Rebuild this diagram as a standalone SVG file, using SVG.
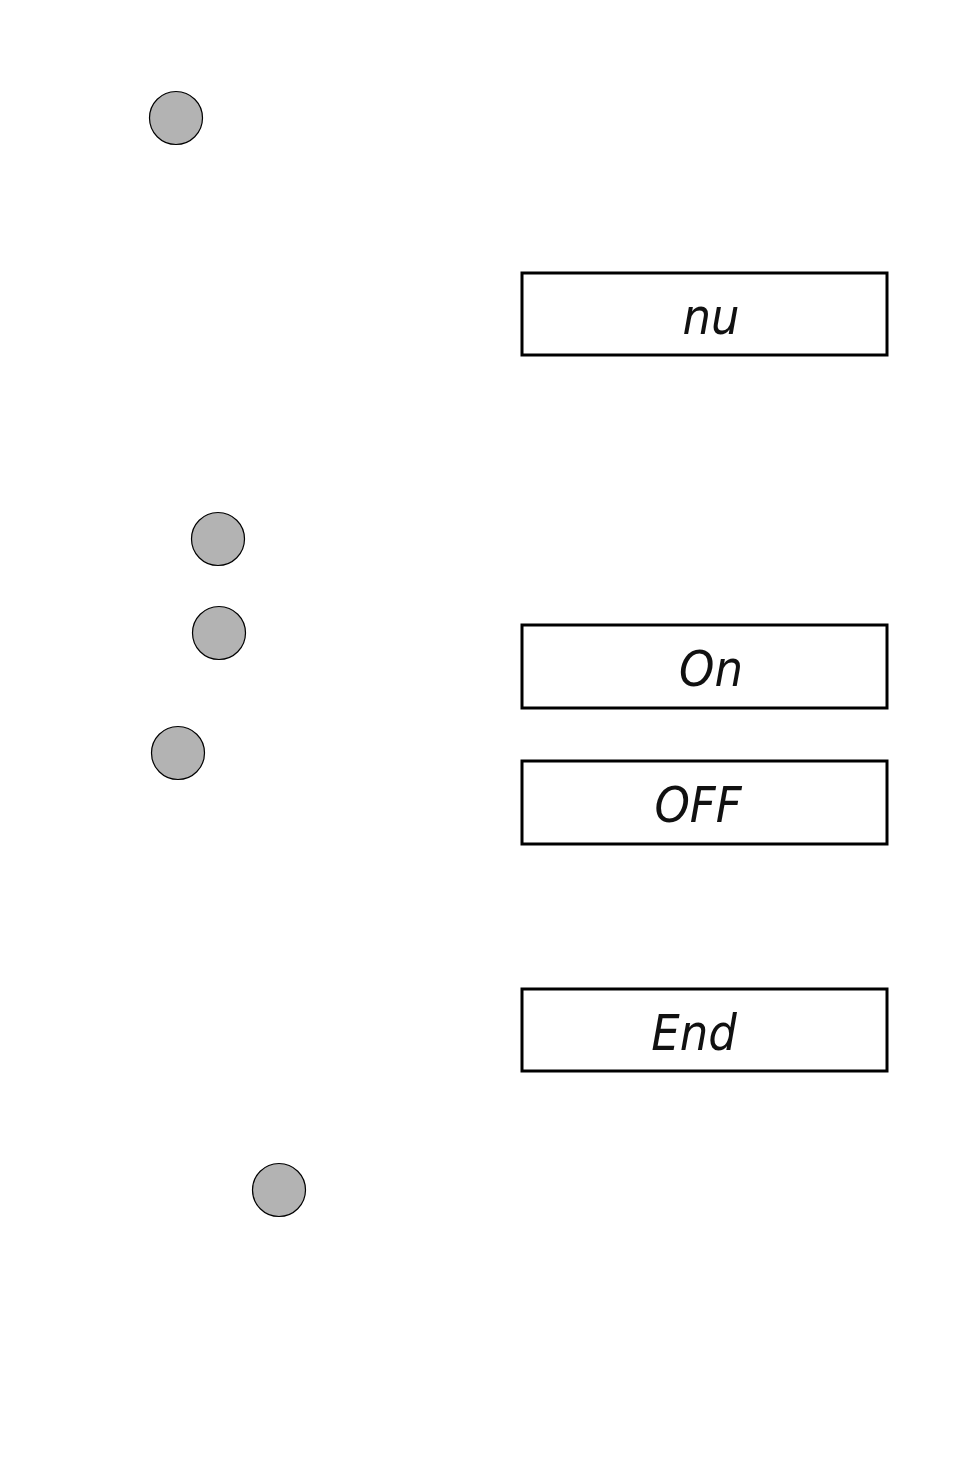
<svg xmlns="http://www.w3.org/2000/svg" width="954" height="1475" viewBox="0 0 954 1475">
<style>
.btn{fill:#b3b3b3;stroke:#000;stroke-width:1.2}
.box{fill:#fff;stroke:#000;stroke-width:3}
.lcd{font-family:"DejaVu Sans Condensed","Liberation Sans",sans-serif;font-style:oblique;font-size:50px;fill:#111;text-anchor:middle}
</style>
<rect width="954" height="1475" fill="#fff"/>
<g id="button1"><circle class="btn" cx="176" cy="118" r="26.5"/></g>
<g id="display1"><rect class="box" x="522" y="273" width="365" height="82"/><text class="lcd" x="711" y="334" font-size="40">nu</text></g>
<g id="button2"><circle class="btn" cx="218" cy="539" r="26.5"/></g>
<g id="button3"><circle class="btn" cx="219" cy="633" r="26.5"/></g>
<g id="display2"><rect class="box" x="522" y="625" width="365" height="83"/><text class="lcd" x="711" y="686">On</text></g>
<g id="button4"><circle class="btn" cx="178" cy="753" r="26.5"/></g>
<g id="display3"><rect class="box" x="522" y="761" width="365" height="83"/><text class="lcd" x="698" y="822">OFF</text></g>
<g id="display4"><rect class="box" x="522" y="989" width="365" height="82"/><text class="lcd" x="694" y="1050">End</text></g>
<g id="button5"><circle class="btn" cx="279" cy="1190" r="26.5"/></g>
<g id="connectors"></g>
</svg>
